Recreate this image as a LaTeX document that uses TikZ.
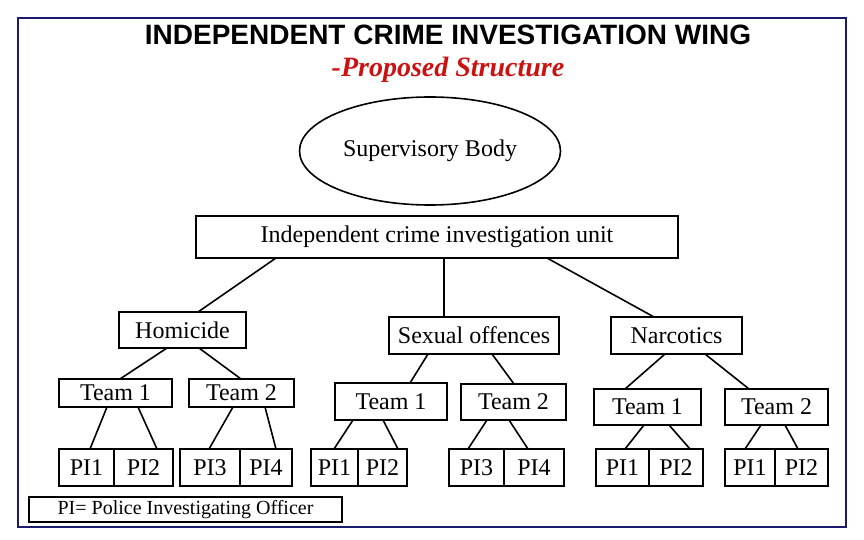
\documentclass[tikz,border=0pt]{standalone}
\usepackage{fontspec}
\setmainfont{Liberation Serif}
\newfontfamily\headfont{Liberation Sans}
\usetikzlibrary{positioning,shapes.geometric}
\definecolor{framenavy}{HTML}{1A1A70}
\definecolor{subred}{HTML}{CC1111}
\tikzset{
  orgbox/.style={
    rectangle, draw, line width=1.6pt, outer sep=0pt, inner sep=0pt,
    minimum height=#1, font=\fontsize{24}{28}\selectfont
  },
  orgbox/.default=37pt,
  pibox/.style={orgbox=37pt},
  orglink/.style={line width=1.6pt},
}

\begin{document}
\begin{tikzpicture}[x=1pt, y=-1pt]
  \useasboundingbox (0,0) rectangle (864,540);
  \draw[framenavy, line width=1.2pt] (18,18) rectangle (846,527);

  % Heading
  \node[font=\headfont\bfseries\fontsize{28}{32}\selectfont] (title) at (448,35)
    {INDEPENDENT CRIME INVESTIGATION WING};
  \node[font=\bfseries\itshape\fontsize{28}{32}\selectfont, color=subred] (subtitle) at (448,70)
    {-Proposed Structure};

  % Top levels
  \node[ellipse, draw, line width=1.6pt, outer sep=0pt, minimum width=261pt, minimum height=108pt,
    font=\fontsize{24}{28}\selectfont] (sup) at (430,151) {Supervisory Body};
  \node[orgbox=42pt, minimum width=482pt] (unit) at (437,237) {Independent crime investigation unit};

  % Divisions
  \node[orgbox=36pt, minimum width=127pt] (hom) at (182.5,330) {Homicide};
  \node[orgbox=37pt, minimum width=170pt] (sex) at (474,335.5) {Sexual offences};
  \node[orgbox=37pt, minimum width=131pt] (nar) at (676.5,335.5) {Narcotics};

  % Teams
  \node[orgbox=28pt, minimum width=113pt] (homA) at (115.5,393) {Team 1};
  \node[orgbox=28pt, minimum width=105pt] (homB) at (241.5,393) {Team 2};
  \node[orgbox=37pt, minimum width=112pt] (sexA) at (391,401.5) {Team 1};
  \node[orgbox=36pt, minimum width=105pt] (sexB) at (513.5,402) {Team 2};
  \node[orgbox=36pt, minimum width=107pt] (narA) at (647.5,407) {Team 1};
  \node[orgbox=36pt, minimum width=103pt] (narB) at (776.5,407) {Team 2};

  % Investigating officers
  \node[pibox, minimum width=55pt] (homP1) at (86.5,467.5) {PI1};
  \node[pibox, minimum width=59pt, right=0pt of homP1] (homP2) {PI2};
  \node[pibox, minimum width=60pt] (homP3) at (210,467.5) {PI3};
  \node[pibox, minimum width=52pt, right=0pt of homP3] (homP4) {PI4};
  \node[pibox, minimum width=47pt] (sexP1) at (334.5,467.5) {PI1};
  \node[pibox, minimum width=49pt, right=0pt of sexP1] (sexP2) {PI2};
  \node[pibox, minimum width=55pt] (sexP3) at (476.5,467.5) {PI3};
  \node[pibox, minimum width=60pt, right=0pt of sexP3] (sexP4) {PI4};
  \node[pibox, minimum width=53pt] (narP1) at (622.5,467.5) {PI1};
  \node[pibox, minimum width=54pt, right=0pt of narP1] (narP2) {PI2};
  \node[pibox, minimum width=50pt] (narP3) at (750,467.5) {PI1};
  \node[pibox, minimum width=53pt, right=0pt of narP3] (narP4) {PI2};

  % Legend
  \node[orgbox=25pt, minimum width=313pt, font=\fontsize{20}{23}\selectfont] (legend) at (185.5,509.5)
    {PI= Police Investigating Officer};

  % Links: unit to divisions
  \draw[orglink] ([xshift=-161pt]unit.south) -- ([xshift=15.5pt]hom.north);
  \draw[orglink] ([xshift=7pt]unit.south) -- ([xshift=-30pt]sex.north);
  \draw[orglink] ([xshift=110pt]unit.south) -- ([xshift=-22.5pt]nar.north);

  % Links: divisions to teams
  \draw[orglink] ([xshift=-15.5pt]hom.south) -- ([xshift=4.5pt]homA.north);
  \draw[orglink] ([xshift=16.5pt]hom.south) -- ([xshift=-0.5pt]homB.north);
  \draw[orglink] ([xshift=-46pt]sex.south) -- ([xshift=19pt]sexA.north);
  \draw[orglink] ([xshift=18pt]sex.south) -- ([xshift=0.5pt]sexB.north);
  \draw[orglink] ([xshift=-11.5pt]nar.south) -- ([xshift=-22.5pt]narA.north);
  \draw[orglink] ([xshift=28.5pt]nar.south) -- ([xshift=-27.5pt]narB.north);

  % Links: teams to officers
  \draw[orglink] ([xshift=-8.5pt]homA.south) -- ([xshift=3.5pt]homP1.north);
  \draw[orglink] ([xshift=22.5pt]homA.south) -- ([xshift=13.5pt]homP2.north);
  \draw[orglink] ([xshift=-8.5pt]homB.south) -- ([xshift=-1pt]homP3.north);
  \draw[orglink] ([xshift=23.5pt]homB.south) -- ([xshift=10pt]homP4.north);
  \draw[orglink] ([xshift=-38pt]sexA.south) -- ([xshift=-0.5pt]sexP1.north);
  \draw[orglink] ([xshift=-8pt]sexA.south) -- ([xshift=15.5pt]sexP2.north);
  \draw[orglink] ([xshift=-26.5pt]sexB.south) -- ([xshift=-8.5pt]sexP3.north);
  \draw[orglink] ([xshift=-4.5pt]sexB.south) -- ([xshift=-6pt]sexP4.north);
  \draw[orglink] ([xshift=-3.5pt]narA.south) -- ([xshift=2.5pt]narP1.north);
  \draw[orglink] ([xshift=21.5pt]narA.south) -- ([xshift=14pt]narP2.north);
  \draw[orglink] ([xshift=-15.5pt]narB.south) -- ([xshift=-5pt]narP3.north);
  \draw[orglink] ([xshift=8.5pt]narB.south) -- ([xshift=-3.5pt]narP4.north);
\end{tikzpicture}
\end{document}
